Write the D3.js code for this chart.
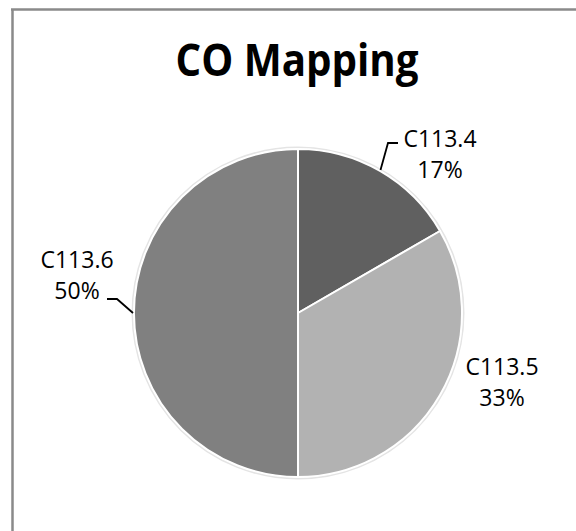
<!DOCTYPE html>
<html>
<head>
<meta charset="utf-8">
<script src="https://cdn.jsdelivr.net/npm/d3@7"></script>
<style>
  html, body { margin: 0; padding: 0; background: #ffffff; }
  svg { display: block; }
</style>
</head>
<body>
<svg id="chart" width="576" height="531"></svg>
<script>
// ---- data ----
const title = "CO Mapping";
const categories = ["C113.4", "C113.5", "C113.6"];
const values = [1, 2, 3];
const percentLabels = ["17%", "33%", "50%"];
const colors = ["#606060", "#b2b2b2", "#808080"];

// ---- layout ----
const W = 576, H = 531;
const cx = 298, cy = 313, R = 164;
const svg = d3.select("#chart");

// chart frame (only left and top edges visible in the crop)
svg.append("line").attr("x1", 12.5).attr("y1", 9).attr("x2", 12.5).attr("y2", H)
  .attr("stroke", "#8a8a8a").attr("stroke-width", 2.5);
svg.append("line").attr("x1", 11).attr("y1", 9.5).attr("x2", W).attr("y2", 9.5)
  .attr("stroke", "#8a8a8a").attr("stroke-width", 2.5);

// title
svg.append("text")
  .attr("x", 297).attr("y", 75.5)
  .attr("text-anchor", "middle")
  .attr("font-family", "'Open Sans', 'Noto Sans', sans-serif")
  .attr("font-weight", "bold")
  .attr("font-size", 45)
  .attr("textLength", 243)
  .attr("lengthAdjust", "spacingAndGlyphs")
  .attr("fill", "#000")
  .text(title);

const data = categories.map((c, i) => ({ cat: c, value: values[i], pct: percentLabels[i], color: colors[i] }));

const pie = d3.pie().value(d => d.value).sort(null);
const arcs = pie(data);
const arc = d3.arc().innerRadius(0).outerRadius(R);

const g = svg.append("g").attr("transform", `translate(${cx},${cy})`);

// soft halo around pie
g.append("circle").attr("r", R + 1.5).attr("fill", "none")
  .attr("stroke", "#e4e4e4").attr("stroke-width", 2);

g.selectAll("path.slice").data(arcs).enter().append("path")
  .attr("class", "slice")
  .attr("d", arc)
  .attr("fill", d => d.data.color)
  .attr("stroke", "#ffffff")
  .attr("stroke-width", 2)
  .attr("stroke-linejoin", "round");

// label layout (relative to pie center): text centre x, first baseline y, leader line
const labelLayout = [
  { x: 142, y: -166, leader: [[100, -170], [90, -170]] },
  { x: 204, y: 62, leader: null },
  { x: -221, y: -45, leader: [[-191, -14], [-181, -14]] }
];

const fontFam = "'Open Sans', 'Noto Sans', sans-serif";
arcs.forEach((a, i) => {
  const L = labelLayout[i];
  const mid = (a.startAngle + a.endAngle) / 2;
  const edge = [Math.sin(mid) * (R + 1), -Math.cos(mid) * (R + 1)];
  if (L.leader) {
    const pts = [L.leader[0], L.leader[1], edge];
    g.append("path")
      .attr("d", d3.line()(pts))
      .attr("fill", "none")
      .attr("stroke", "#000")
      .attr("stroke-width", 1.8);
  }
  const t = g.append("text")
    .attr("text-anchor", "middle")
    .attr("font-family", fontFam)
    .attr("font-size", 23)
    .attr("fill", "#000");
  t.append("tspan").attr("x", L.x).attr("y", L.y).text(a.data.cat);
  t.append("tspan").attr("x", L.x).attr("y", L.y + 31).text(a.data.pct);
});
</script>
</body>
</html>
